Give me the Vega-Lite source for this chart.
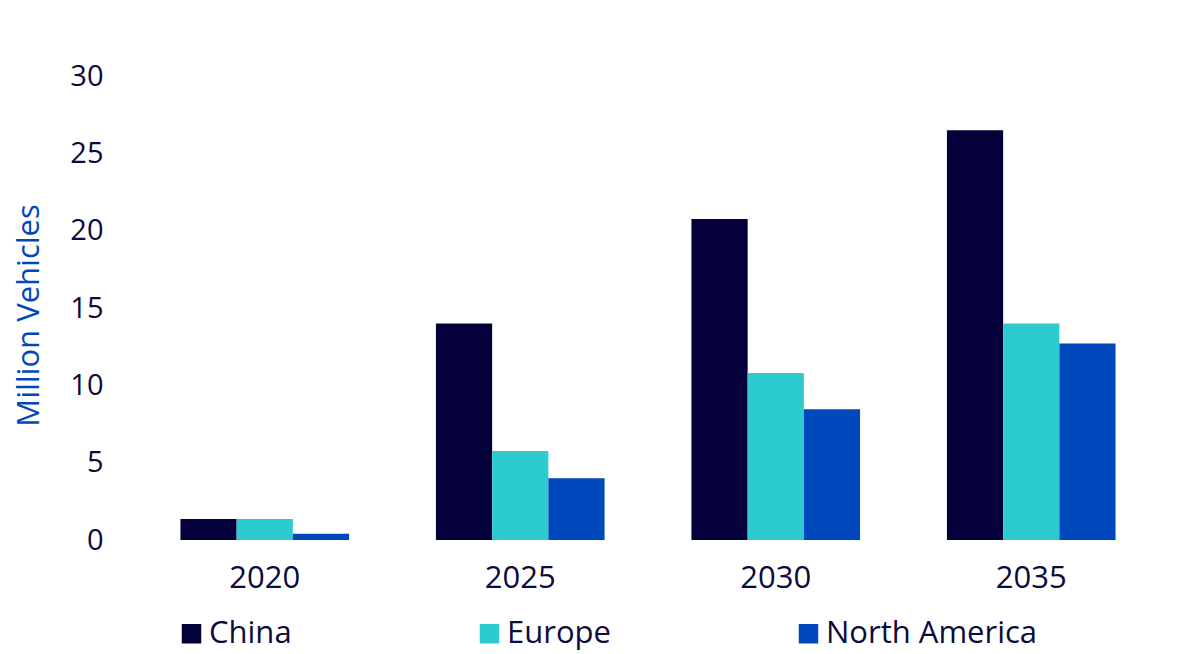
{
  "$schema": "https://vega.github.io/schema/vega-lite/v6.json",
  "autosize": {"type": "none"},
  "padding": {"left": 137, "top": 76, "right": 41, "bottom": 114},
  "width": 1022,
  "height": 464,
  "background": "white",
  "config": {
    "view": {"stroke": null},
    "font": "Open Sans",
    "axis": {"grid": false, "domain": false, "ticks": false, "labelFont": "Open Sans", "labelColor": "#0C0B3B", "labelFontSize": 29}
  },
  "data": {
    "values": [
      {"year": "2020", "region": "China", "value": 1.35},
      {"year": "2020", "region": "Europe", "value": 1.35},
      {"year": "2020", "region": "North America", "value": 0.4},
      {"year": "2025", "region": "China", "value": 14.0},
      {"year": "2025", "region": "Europe", "value": 5.75},
      {"year": "2025", "region": "North America", "value": 4.0},
      {"year": "2030", "region": "China", "value": 20.75},
      {"year": "2030", "region": "Europe", "value": 10.8},
      {"year": "2030", "region": "North America", "value": 8.45},
      {"year": "2035", "region": "China", "value": 26.5},
      {"year": "2035", "region": "Europe", "value": 14.0},
      {"year": "2035", "region": "North America", "value": 12.7}
    ]
  },
  "mark": {"type": "bar"},
  "encoding": {
    "x": {
      "field": "year", "type": "nominal", "title": null,
      "scale": {"paddingInner": 0.34, "paddingOuter": 0.17},
      "axis": {"labelAngle": 0, "labelPadding": 23, "labelFontSize": 31}
    },
    "xOffset": {"field": "region", "type": "nominal", "scale": {"paddingInner": 0, "paddingOuter": 0}},
    "y": {
      "field": "value", "type": "quantitative", "title": "Million Vehicles",
      "scale": {"domain": [0, 30], "nice": false},
      "axis": {"values": [0, 5, 10, 15, 20, 25, 30], "labelPadding": 34, "titleColor": "#0047BB", "titleFontSize": 31, "titleFontWeight": "normal", "titleFont": "Open Sans", "titlePadding": 24, "titleY": 239}
    },
    "color": {
      "field": "region", "type": "nominal",
      "scale": {"domain": ["China", "Europe", "North America"], "range": ["#03003A", "#2CCBD0", "#0048BC"]},
      "legend": {
        "title": null, "orient": "none", "direction": "horizontal",
        "legendX": 39, "legendY": 542,
        "symbolType": "square", "symbolSize": 380, "symbolStrokeWidth": 0,
        "labelFontSize": 31, "labelFont": "Open Sans", "labelColor": "#0C0B3B",
        "labelOffset": 2, "columnPadding": 182, "labelLimit": 400
      }
    }
  }
}
